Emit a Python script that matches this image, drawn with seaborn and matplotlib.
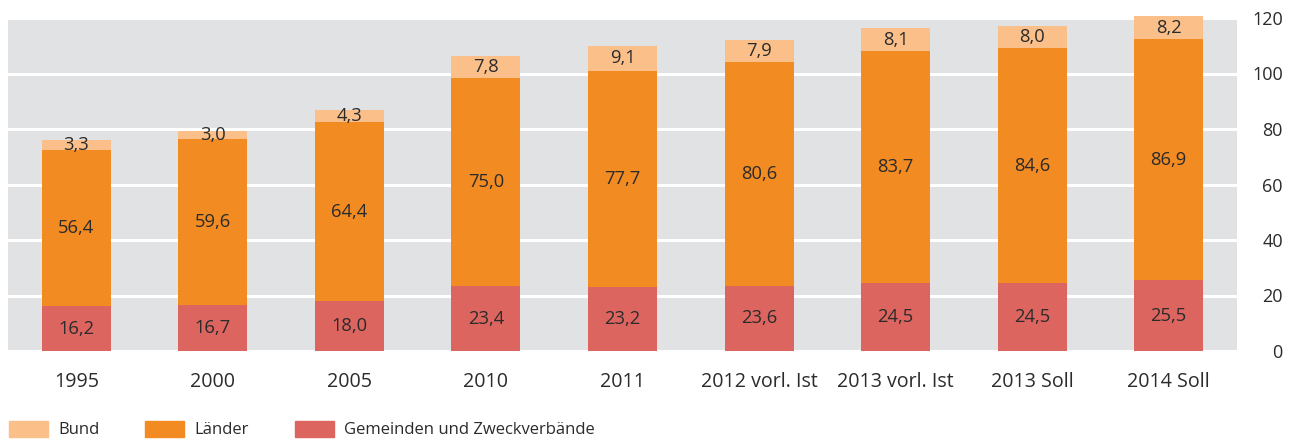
import matplotlib.pyplot as plt
import seaborn as sns
import numpy as np
from matplotlib.patches import Patch

# Data (Mrd. Euro)
categories = ["1995", "2000", "2005", "2010", "2011", "2012 vorl. Ist", "2013 vorl. Ist", "2013 Soll", "2014 Soll"]
gemeinden = [16.2, 16.7, 18.0, 23.4, 23.2, 23.6, 24.5, 24.5, 25.5]
laender = [56.4, 59.6, 64.4, 75.0, 77.7, 80.6, 83.7, 84.6, 86.9]
bund = [3.3, 3.0, 4.3, 7.8, 9.1, 7.9, 8.1, 8.0, 8.2]
y_ticks = [0, 20, 40, 60, 80, 100, 120]

c_bund = "#FBC08A"
c_laender = "#F28B22"
c_gemeinden = "#DC6560"
text_c = "#2b2b2b"

sns.set_style("white")
plt.rcParams['font.family'] = ['Open Sans', 'DejaVu Sans']

fig = plt.figure(figsize=(13, 4.43), dpi=100)
ax = fig.add_axes([8 / 1300, 92 / 443, 1229 / 1300, 333 / 443])
ax.set_facecolor("#E1E2E4")

g = np.array(gemeinden)
l = np.array(laender)
b = np.array(bund)

# stacked bars drawn as cumulative totals, largest first
bar_kw = dict(saturation=1, width=0.505, ax=ax, clip_on=False, zorder=3, linewidth=0)
sns.barplot(x=categories, y=g + l + b, color=c_bund, **bar_kw)
sns.barplot(x=categories, y=g + l, color=c_laender, **bar_kw)
sns.barplot(x=categories, y=g, color=c_gemeinden, **bar_kw)

fmt = lambda v: f"{v:.1f}".replace(".", ",")
for i in range(len(categories)):
    ax.text(i, g[i] / 2, fmt(g[i]), ha="center", va="center", fontsize=13.2, color=text_c, zorder=4)
    ax.text(i, g[i] + l[i] / 2, fmt(l[i]), ha="center", va="center", fontsize=13.2, color=text_c, zorder=4)
    ax.text(i, g[i] + l[i] + b[i] / 2, fmt(b[i]), ha="center", va="center", fontsize=13.2, color=text_c, zorder=4)

ax.set_ylim(0, 120)
ax.set_xlim(-0.5, len(categories) - 0.5)
ax.set_yticks(y_ticks)
ax.yaxis.tick_right()
ax.tick_params(axis="y", length=0, pad=33, labelsize=13, labelcolor=text_c)
for t in ax.get_yticklabels():
    t.set_horizontalalignment("right")
ax.tick_params(axis="x", length=0, pad=15, labelsize=14.1, labelcolor=text_c)
ax.grid(axis="y", color="white", linewidth=2.2, zorder=1)
ax.set_axisbelow(True)
for s in ax.spines.values():
    s.set_visible(False)
ax.set_xlabel("")
ax.set_ylabel("")

handles = [Patch(color=c_bund, label="Bund"),
           Patch(color=c_laender, label="Länder"),
           Patch(color=c_gemeinden, label="Gemeinden und Zweckverbände")]
fig.legend(handles=handles, loc="lower left", bbox_to_anchor=(-0.0005, -0.012), ncol=3, frameon=False,
           fontsize=12, handlelength=2.34, handleheight=1.1, handletextpad=0.6, columnspacing=2.75,
           labelcolor=text_c, borderaxespad=0.2)

fig.savefig("out.png", dpi=100)
